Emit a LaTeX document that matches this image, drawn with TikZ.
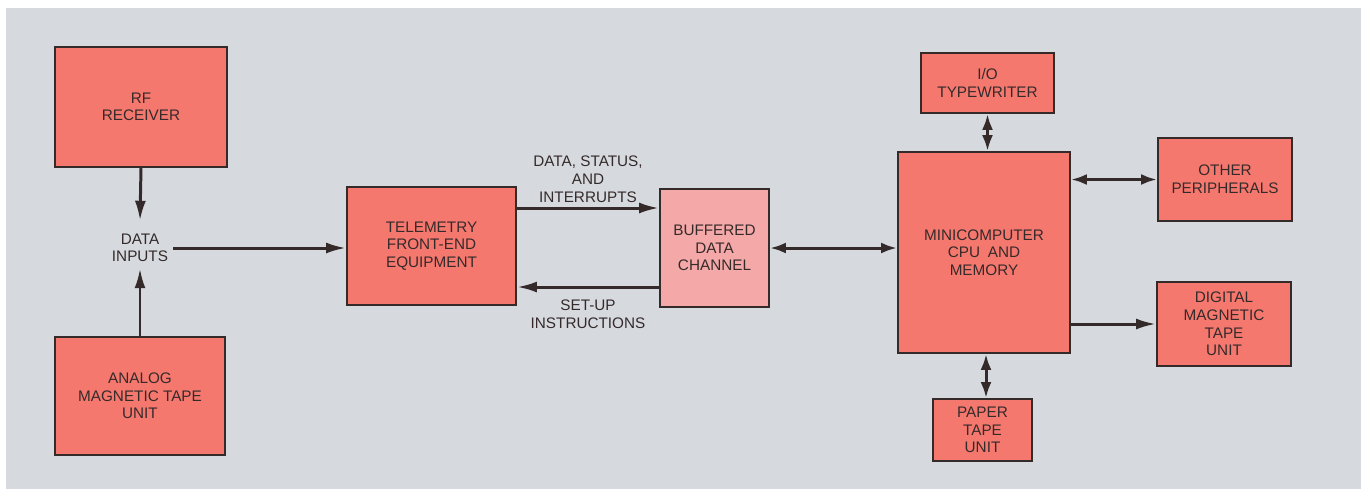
\documentclass[tikz,border=0pt]{standalone}
\usepackage{fontspec}
\setsansfont{Liberation Sans}
\usetikzlibrary{arrows.meta}
\definecolor{pagegray}{HTML}{D6DADF}
\definecolor{boxred}{HTML}{F5786F}
\definecolor{boxpink}{HTML}{F4A8A8}
\definecolor{inkdark}{HTML}{352A2A}
\tikzset{
  unit/.style={draw=inkdark,line width=1.1pt,fill=boxred,text=inkdark,align=center,
    font=\sffamily\fontsize{8.7}{10}\selectfont,inner sep=0pt},
  lbl/.style={text=inkdark,align=center,font=\sffamily\fontsize{8.7}{10}\selectfont,inner sep=1pt},
  flow/.style={draw=inkdark,line width=1.7pt,-{Latex[length=4mm,width=2.2mm]}},
  dflow/.style={draw=inkdark,line width=1.7pt,{Latex[length=3.2mm,width=2.2mm]}-{Latex[length=3.2mm,width=2.2mm]}}
}
\begin{document}
\begin{tikzpicture}[x=0.02cm,y=-0.02cm]
        \useasboundingbox (0,0) rectangle (1361,488);
        \fill[white] (-5,-5) rectangle (1370,495);
        \fill[pagegray] (6,8) rectangle (1370,495);
        % receiving side
        \node[unit,minimum width=3.44cm,minimum height=2.40cm] (rf) at (141,107) {RF\\RECEIVER};
        \node[unit,minimum width=3.40cm,minimum height=2.36cm] (analog) at (140,396) {ANALOG\\MAGNETIC TAPE\\UNIT};
        \node[lbl] (inputs) at (140,248) {DATA\\INPUTS};
        \node[unit,minimum width=3.38cm,minimum height=2.36cm] (tfe) at (431.5,246) {TELEMETRY\\FRONT-END\\EQUIPMENT};
        \node[unit,fill=boxpink,minimum width=2.18cm,minimum height=2.36cm] (buf) at (714.5,248) {BUFFERED\\DATA\\CHANNEL};
        % computer side
        \node[unit,minimum width=3.44cm,minimum height=4.02cm] (cpu) at (984,252.5) {MINICOMPUTER\\CPU\enspace AND\\MEMORY};
        \node[unit,minimum width=2.66cm,minimum height=1.20cm] (io) at (987.5,83) {I/O\\TYPEWRITER};
        \node[unit,minimum width=2.68cm,minimum height=1.66cm] (oth) at (1225,179.5) {OTHER\\PERIPHERALS};
        \node[unit,minimum width=2.68cm,minimum height=1.68cm] (dig) at (1224,324) {DIGITAL\\MAGNETIC\\TAPE\\UNIT};
        \node[unit,minimum width=1.98cm,minimum height=1.24cm] (ppr) at (982.5,430) {PAPER\\TAPE\\UNIT};
        \coordinate (upin) at (0,208);
        \coordinate (dnin) at (0,287);
        % connectors
        \draw[flow] (rf.south) -- ([yshift=0.22cm]inputs.north);
        \draw[flow] (analog.north) -- ([yshift=-0.08cm]inputs.south);
        \draw[flow] ([xshift=0.06cm]inputs.east) -- (inputs.east -| tfe.west);
        \draw[flow] (tfe.east |- upin) -- (buf.west |- upin)
          node[lbl,midway,above=0.05cm] (dsi) {DATA, STATUS,\\AND\\INTERRUPTS};
        \draw[flow] (buf.west |- dnin) -- (tfe.east |- dnin)
          node[lbl,midway,below=0.2cm] (sui) {SET-UP\\INSTRUCTIONS};
        \draw[dflow] (buf.east) -- (buf.east -| cpu.west);
        \draw[dflow] (io.south) -- (io.south |- cpu.north);
        \draw[dflow] (cpu.east |- oth.west) -- (oth.west);
        \draw[flow] (cpu.east |- dig.west) -- (dig.west);
        \draw[dflow] (cpu.south -| 986,0) -- (ppr.north -| 986,0);
      \end{tikzpicture}
\end{document}
